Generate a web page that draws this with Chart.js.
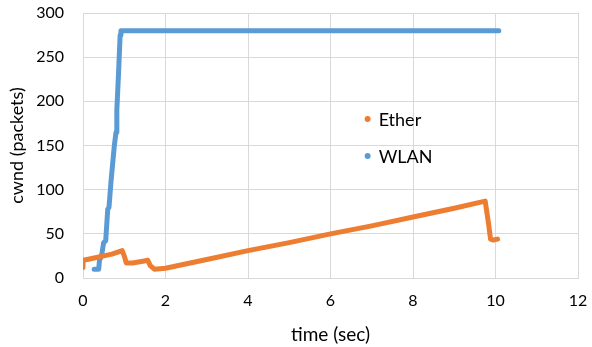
<!DOCTYPE html>
<html>
<head>
<meta charset="utf-8">
<script src="https://cdn.jsdelivr.net/npm/chart.js@4"></script>
<style>
  html, body { margin: 0; padding: 0; background: #fff; }
  #wrap { width: 592px; height: 347px; }
</style>
</head>
<body>
<div id="wrap"><canvas id="myChart"></canvas></div>
<script>
// Ether series (time sec, cwnd packets)
var etherX = [0, 0, 0.1, 0.3, 0.5, 0.7, 0.95, 1.0, 1.05, 1.2, 1.45, 1.57, 1.63, 1.73, 2.0, 3, 4, 5, 6, 7, 8, 9, 9.75, 9.83, 9.88, 9.95, 10.05];
var etherY = [12, 20, 21, 23, 25, 27, 31, 25, 17, 17, 19, 20, 14, 10, 11, 21, 31, 40, 50, 59, 69, 79, 87, 62, 44, 43, 44];

// WLAN series
var wlanX = [0.27, 0.38, 0.40, 0.45, 0.5, 0.55, 0.6, 0.63, 0.68, 0.76, 0.8, 0.82, 0.86, 0.9, 0.92, 2, 4, 6, 8, 10.08];
var wlanY = [10, 10, 20, 25, 40, 42, 78, 80, 110, 150, 165, 190, 230, 275, 280, 280, 280, 280, 280, 280];

var seriesNames = ['Ether', 'WLAN'];
var seriesColors = ['#ED7D31', '#5B9BD5'];
var xTicks = [0, 2, 4, 6, 8, 10, 12];
var yTicks = [0, 50, 100, 150, 200, 250, 300];

function toPoints(xs, ys) {
  var pts = [];
  for (var i = 0; i < xs.length; i++) pts.push({ x: xs[i], y: ys[i] });
  return pts;
}

var FONT = 'Lato, "Open Sans", sans-serif';
var gridColor = '#d9d9d9';

// legend drawn inside the plot, placed with the chart's scales
var innerLegend = {
  id: 'innerLegend',
  afterDraw: function (chart) {
    var ctx = chart.ctx;
    var xs = chart.scales.x, ys = chart.scales.y;
    var legendY = [180, 138];
    ctx.save();
    ctx.font = '18px ' + FONT;
    ctx.textBaseline = 'middle';
    ctx.textAlign = 'left';
    for (var i = 0; i < seriesNames.length; i++) {
      var px = xs.getPixelForValue(6.9);
      var py = ys.getPixelForValue(legendY[i]);
      ctx.fillStyle = seriesColors[i];
      ctx.beginPath();
      ctx.arc(px, py, 3, 0, Math.PI * 2);
      ctx.fill();
      ctx.fillStyle = '#000';
      ctx.fillText(seriesNames[i], px + 11, py + 1);
    }
    ctx.restore();
  }
};

var ctx = document.getElementById('myChart');
var chart = new Chart(ctx, {
  type: 'scatter',
  data: {
    datasets: [{
      label: seriesNames[0],
      data: toPoints(etherX, etherY),
      showLine: true,
      borderColor: seriesColors[0],
      backgroundColor: seriesColors[0],
      borderWidth: 5,
      pointRadius: 0,
      borderJoinStyle: 'round',
      borderCapStyle: 'round'
    }, {
      label: seriesNames[1],
      data: toPoints(wlanX, wlanY),
      showLine: true,
      borderColor: seriesColors[1],
      backgroundColor: seriesColors[1],
      borderWidth: 5,
      pointRadius: 0,
      borderJoinStyle: 'round',
      borderCapStyle: 'round'
    }]
  },
  options: {
    responsive: true,
    maintainAspectRatio: false,
    animation: false,
    layout: { padding: { top: 13, right: 14, left: 0, bottom: 0 } },
    plugins: {
      legend: { display: false },
      tooltip: { enabled: false }
    },
    scales: {
      x: {
        type: 'linear',
        min: 0, max: 12,
        afterBuildTicks: function (s) { s.ticks = xTicks.map(function (v) { return { value: v }; }); },
        afterFit: function (s) { s.height = 69; s.paddingLeft = 0; s.paddingRight = 0; },
        grid: { color: gridColor, drawTicks: false },
        border: { color: gridColor },
        ticks: { color: '#000', font: { family: FONT, size: 16 }, padding: 13, maxRotation: 0 },
        title: { display: true, text: 'time (sec)', color: '#000', font: { family: FONT, size: 19 }, padding: { top: 2, bottom: 1 } }
      },
      y: {
        min: 0, max: 300,
        afterBuildTicks: function (s) { s.ticks = yTicks.map(function (v) { return { value: v }; }); },
        afterFit: function (s) { s.width = 83; s.paddingTop = 0; s.paddingBottom = 0; },
        grid: { color: gridColor, drawTicks: false },
        border: { color: gridColor },
        ticks: { color: '#000', font: { family: FONT, size: 16 }, padding: 19 },
        title: { display: true, text: 'cwnd (packets)', color: '#000', font: { family: FONT, size: 18 }, padding: { top: 6, bottom: 4 } }
      }
    }
  },
  plugins: [innerLegend]
});
</script>
</body>
</html>
